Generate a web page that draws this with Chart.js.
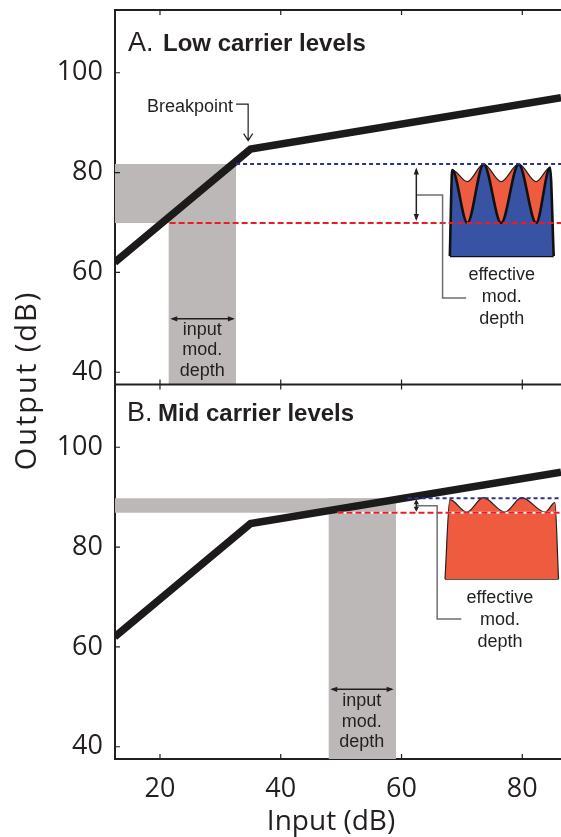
<!DOCTYPE html>
<html>
<head>
<meta charset="utf-8">
<script src="https://cdn.jsdelivr.net/npm/chart.js@4.4.1/dist/chart.umd.min.js"></script>
<style>
  html, body { margin: 0; padding: 0; background: #fff; }
  #wrap { position: relative; width: 561px; height: 837px; }
</style>
</head>
<body>
<div id="wrap"><canvas id="chart" width="561" height="837"></canvas></div>
<script>
// ---- values, all in dB ----
const xTicks = [20, 40, 60, 80];
const yTicks = [40, 60, 80, 100];
const xMin = 12.55, xMax = 86.41;
const yMin = 37.55, yMax = 112.57;

// compressive input/output function (same in both panels)
const ioInput = [12.5, 35, 86.41];
const ioOutput = [62, 84.7, 95];

// A: low carrier levels
const inBandA = [21.4, 32.6];
const outBandA = [69.9, 81.7];
const dashStartA = [21.6, 32.6];   // trough level, peak level
// B: mid carrier levels
const inBandB = [47.9, 59.1];
const outBandB = [86.9, 89.8];
const dashStartB = [49.4, 61.0];

// little modulated-carrier sketches
const glyphXA = [68.0, 68.4, 70.9, 73.6, 76.5, 79.4, 82.3, 84.6, 85.2];
const glyphOuterA = [63.3, 80.5, 78.2, 81.7, 78.2, 81.7, 78.2, 81.0, 63.3];
const glyphInnerA = [63.3, 80.5, 69.9, 81.7, 69.9, 81.7, 69.9, 81.0, 63.3];
const glyphXB = [67.2, 68.0, 70.8, 73.55, 77.1, 79.9, 83.8, 85.4, 86.0];
const glyphOuterB = [73.6, 89.5, 87.0, 89.9, 87.0, 89.9, 87.0, 88.9, 73.6];

// leader lines from the small arrows to the "effective mod. depth" text
const leaderXA = [62.45, 66.8, 66.8, 70.7];
const leaderYA = [75.5, 75.5, 54.9, 54.9];
const leaderXB = [62.45, 65.9, 65.9, 69.9];
const leaderYB = [88.3, 88.3, 65.6, 65.6];

// colours
const ink = '#231f20';
const grey = '#bcb8b7';
const red = '#ed1c24';
const navy = '#2e3192';
const orange = '#ef5b3e';
const blue = '#3953a4';
const leader = '#6d6e71';

function line(axis, xs, ys, extra) {
    return Object.assign({
        yAxisID: axis,
        data: xs.map((x, i) => ({ x: x, y: ys[i] })),
        pointRadius: 0,
        borderWidth: 0,
        tension: 0,
        fill: false
    }, extra);
}

const datasets = [
    // grey L-shaped bands
    line('yA', inBandA, [outBandA[1], outBandA[1]], { backgroundColor: grey, fill: { value: yMin }, order: 10 }),
    line('yA', [xMin, inBandA[1]], [outBandA[1], outBandA[1]], { backgroundColor: grey, fill: { value: outBandA[0] }, order: 10 }),
    line('yB', inBandB, [outBandB[1], outBandB[1]], { backgroundColor: grey, fill: { value: yMin }, order: 10 }),
    line('yB', [xMin, inBandB[1]], [outBandB[1], outBandB[1]], { backgroundColor: grey, fill: { value: outBandB[0] }, order: 10 }),

    // sketches
    line('yA', glyphXA, glyphOuterA, { backgroundColor: orange, borderColor: ink, borderWidth: 1.2, fill: { value: glyphOuterA[0] }, cubicInterpolationMode: 'monotone', order: 7 }),
    line('yA', glyphXA, glyphInnerA, { backgroundColor: blue, borderColor: '#111', borderWidth: 2.6, fill: { value: glyphInnerA[0] }, cubicInterpolationMode: 'monotone', order: 6 }),
    line('yA', [glyphXA[0], glyphXA[8]], [glyphInnerA[0], glyphInnerA[8]], { borderColor: '#111', borderWidth: 2.6, order: 6 }),
    line('yB', glyphXB, glyphOuterB, { backgroundColor: orange, borderColor: ink, borderWidth: 1.2, fill: { value: glyphOuterB[0] }, cubicInterpolationMode: 'monotone', order: 6 }),
    line('yB', [glyphXB[0], glyphXB[8]], [glyphOuterB[0], glyphOuterB[8]], { borderColor: ink, borderWidth: 1.2, order: 6 }),

    // input/output function
    line('yA', ioInput, ioOutput, { borderColor: '#1d1a1b', borderWidth: 7.5, borderJoinStyle: 'miter', order: 4 }),
    line('yB', ioInput, ioOutput, { borderColor: '#1d1a1b', borderWidth: 7.5, borderJoinStyle: 'miter', order: 4 }),

    // dashed output levels
    line('yA', [dashStartA[0], xMax], [outBandA[0], outBandA[0]], { borderColor: red, borderWidth: 2, borderDash: [6, 3], order: 2 }),
    line('yA', [dashStartA[1], xMax], [outBandA[1], outBandA[1]], { borderColor: navy, borderWidth: 2, borderDash: [4, 3], order: 2 }),
    line('yB', [dashStartB[0], xMax], [outBandB[0], outBandB[0]], { borderColor: '#fff', borderWidth: 2, order: 3 }),
    line('yB', [dashStartB[0], xMax], [outBandB[0], outBandB[0]], { borderColor: red, borderWidth: 2, borderDash: [6, 3], order: 2 }),
    line('yB', [dashStartB[1], xMax], [outBandB[1], outBandB[1]], { borderColor: navy, borderWidth: 2, borderDash: [4, 3], order: 2 }),

    // leaders
    line('yA', leaderXA, leaderYA, { borderColor: leader, borderWidth: 1.5, order: 1 }),
    line('yB', leaderXB, leaderYB, { borderColor: leader, borderWidth: 1.5, order: 1 })
];

// annotation anchors (dB)
const breakpointNote = { x: 32.1, y: 92.2, path: [[32.6, 93.7], [34.6, 93.7], [34.6, 86.4]] };
const effArrowA = { x: 62.45, y: [81.0, 70.3] };
const effArrowB = { x: 62.45, y: [89.6, 87.1] };
const inArrowA = { y: 50.7, x: [21.7, 32.4] };
const inArrowB = { y: 51.5, x: [48.2, 58.7] };
const effTextA = { x: 76.6, y: 58.5 };
const effTextB = { x: 76.3, y: 68.9 };
const inTextA = { x: 27.0, y: 47.5 };
const inTextB = { x: 53.4, y: 48.1 };

function head(ctx, x, y, dx, dy, len, half) {
    ctx.beginPath();
    ctx.moveTo(x, y);
    ctx.lineTo(x - dx * len - dy * half, y - dy * len + dx * half);
    ctx.lineTo(x - dx * len + dy * half, y - dy * len - dx * half);
    ctx.closePath();
    ctx.fill();
}

function doubleArrow(ctx, x1, y1, x2, y2, len) {
    const d = Math.hypot(x2 - x1, y2 - y1);
    const dx = (x2 - x1) / d, dy = (y2 - y1) / d;
    ctx.beginPath();
    ctx.moveTo(x1 + dx * 2, y1 + dy * 2);
    ctx.lineTo(x2 - dx * 2, y2 - dy * 2);
    ctx.stroke();
    head(ctx, x2, y2, dx, dy, len, 2.6);
    head(ctx, x1, y1, -dx, -dy, len, 2.6);
}

const annotations = {
    id: 'annotations',
    afterDatasetsDraw(chart) {
        const { ctx, chartArea: ca, scales } = chart;
        const sx = scales.x, yA = scales.yA, yB = scales.yB;
        const X = v => sx.getPixelForValue(v);
        ctx.save();

        // frame lines not drawn by the axes
        ctx.strokeStyle = ink;
        ctx.lineWidth = 2;
        ctx.beginPath();
        ctx.moveTo(ca.left - 1, yA.top);
        ctx.lineTo(ca.right, yA.top);
        ctx.moveTo(ca.left - 1, yA.bottom);
        ctx.lineTo(ca.right, yA.bottom);
        ctx.stroke();

        // inward tick marks
        ctx.lineWidth = 1.2;
        ctx.beginPath();
        xTicks.forEach(v => {
            const p = X(v);
            ctx.moveTo(p, yA.top); ctx.lineTo(p, yA.top + 5);
            ctx.moveTo(p, yA.bottom - 5); ctx.lineTo(p, yA.bottom + 5);
            ctx.moveTo(p, yB.bottom); ctx.lineTo(p, yB.bottom - 5);
        });
        [yA, yB].forEach(s => yTicks.forEach(v => {
            const p = s.getPixelForValue(v);
            ctx.moveTo(ca.left, p); ctx.lineTo(ca.left + 5, p);
        }));
        ctx.stroke();

        // panel titles
        ctx.fillStyle = ink;
        ctx.textAlign = 'left';
        ctx.textBaseline = 'alphabetic';
        ctx.font = '27px "Liberation Sans"';
        ctx.fillText('A.', ca.left + 13, yA.top + 40.5);
        ctx.fillText('B.', ca.left + 12, yB.top + 36.5);
        ctx.font = 'bold 24px "Liberation Sans"';
        ctx.fillText('Low carrier levels', ca.left + 48, yA.top + 40.5);
        ctx.fillText('Mid carrier levels', ca.left + 43, yB.top + 36.5);

        // shared y title, centred a little below the panel join
        ctx.save();
        ctx.translate(36, yA.bottom - 4);
        ctx.rotate(-Math.PI / 2);
        ctx.textAlign = 'center';
        ctx.font = '29px "Open Sans"';
        ctx.letterSpacing = '2px';
        ctx.fillText('Output (dB)', 0, 0);
        ctx.restore();

        // x title
        ctx.textAlign = 'center';
        ctx.font = '28px "Open Sans"';
        ctx.fillText('Input (dB)', (ca.left + ca.right) / 2 - 7, sx.bottom - 7);

        // breakpoint label and its bent arrow
        ctx.font = '18px "Liberation Sans"';
        ctx.textAlign = 'right';
        ctx.fillText('Breakpoint', X(breakpointNote.x), yA.getPixelForValue(breakpointNote.y));
        ctx.strokeStyle = ink;
        ctx.lineWidth = 1.2;
        ctx.beginPath();
        breakpointNote.path.forEach((p, i) => {
            const px = X(p[0]), py = yA.getPixelForValue(p[1]);
            if (i === 0) ctx.moveTo(px, py); else ctx.lineTo(px, py);
        });
        const tip = breakpointNote.path[breakpointNote.path.length - 1];
        const tx = X(tip[0]), ty = yA.getPixelForValue(tip[1]);
        ctx.moveTo(tx - 4.5, ty - 7);
        ctx.lineTo(tx, ty);
        ctx.lineTo(tx + 4.5, ty - 7);
        ctx.stroke();

        // double-headed arrows
        ctx.fillStyle = ink;
        ctx.lineWidth = 1.5;
        doubleArrow(ctx, X(effArrowA.x), yA.getPixelForValue(effArrowA.y[0]), X(effArrowA.x), yA.getPixelForValue(effArrowA.y[1]), 7);
        doubleArrow(ctx, X(effArrowB.x), yB.getPixelForValue(effArrowB.y[0]), X(effArrowB.x), yB.getPixelForValue(effArrowB.y[1]), 5);
        doubleArrow(ctx, X(inArrowA.x[0]), yA.getPixelForValue(inArrowA.y), X(inArrowA.x[1]), yA.getPixelForValue(inArrowA.y), 7);
        doubleArrow(ctx, X(inArrowB.x[0]), yB.getPixelForValue(inArrowB.y), X(inArrowB.x[1]), yB.getPixelForValue(inArrowB.y), 7);

        // text blocks
        ctx.textAlign = 'center';
        ctx.font = '18px "Liberation Sans"';
        const block = (lines, x, y, gap) => lines.forEach((t, i) => ctx.fillText(t, x, y + i * gap));
        block(['effective', 'mod.', 'depth'], X(effTextA.x), yA.getPixelForValue(effTextA.y), 22);
        block(['effective', 'mod.', 'depth'], X(effTextB.x), yB.getPixelForValue(effTextB.y), 22);
        block(['input', 'mod.', 'depth'], X(inTextA.x), yA.getPixelForValue(inTextA.y), 20.5);
        block(['input', 'mod.', 'depth'], X(inTextB.x), yB.getPixelForValue(inTextB.y), 20.5);

        ctx.restore();
    }
};

function noPadding(s) {
    s.paddingTop = 0;
    s.paddingBottom = 0;
    s.paddingLeft = 0;
    s.paddingRight = 0;
}

function yAxis() {
    return {
        type: 'linear',
        position: 'left',
        stack: 'panels',
        stackWeight: 1,
        min: yMin,
        max: yMax,
        afterBuildTicks: s => { s.ticks = yTicks.map(v => ({ value: v })); },
        afterFit: s => { s.width = 115; noPadding(s); },
        grid: { drawOnChartArea: false, drawTicks: false },
        border: { display: true, color: ink, width: 2 },
        ticks: { font: { family: 'Open Sans', size: 27 }, color: ink, padding: 12 }
    };
}

new Chart(document.getElementById('chart'), {
    type: 'line',
    data: { datasets: datasets },
    options: {
        responsive: false,
        animation: false,
        events: [],
        layout: { padding: { top: 10, left: 0, right: 0, bottom: 0 }, autoPadding: false },
        plugins: { legend: { display: false }, tooltip: { enabled: false } },
        scales: {
            x: {
                type: 'linear',
                position: 'bottom',
                min: xMin,
                max: xMax,
                afterBuildTicks: s => { s.ticks = xTicks.map(v => ({ value: v })); },
                afterFit: s => { s.height = 78; noPadding(s); },
                grid: { drawOnChartArea: false, drawTicks: false },
                border: { display: true, color: ink, width: 2 },
                ticks: { font: { family: 'Open Sans', size: 27 }, color: ink, padding: 14, maxRotation: 0 }
            },
            // stacked left axes are laid out last-first, so the lower panel comes first
            yB: yAxis(),
            yA: yAxis()
        }
    },
    plugins: [annotations]
});
</script>
</body>
</html>
